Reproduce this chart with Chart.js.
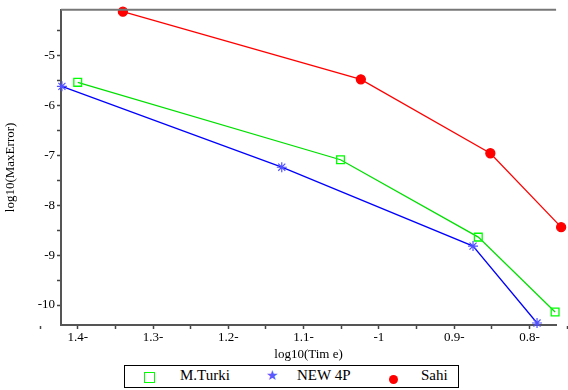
<!DOCTYPE html>
<html>
<head>
<meta charset="utf-8">
<script src="https://cdn.jsdelivr.net/npm/chart.js@4"></script>
<style>
  body { margin:0; background:#fff; width:568px; height:390px; overflow:hidden; position:relative; font-family:"Liberation Serif", "Times New Roman", serif; }
  #wrap { position:absolute; left:0; top:0; width:568px; height:362px; }
  .legend { position:absolute; left:124px; top:365px; width:333px; height:21px; border:1px solid #000; font-size:15px; color:#000; font-family:"Liberation Serif", serif; }
  .legend span { position:absolute; top:1px; }
  .sq { display:inline-block; width:9px; height:9px; border:1.5px solid #00ff00; }
  .dot { display:inline-block; width:9px; height:9px; border-radius:50%; background:#ff0000; }
</style>
</head>
<body>
<div id="wrap"><canvas id="c"></canvas></div>
<div class="legend">
  <span style="left:19px; top:4px;"><i class="sq"></i></span>
  <span style="left:55px;">M.Turki</span>
  <span style="left:141px; top:1px; color:#5a5aff; font-size:14px; font-family:'DejaVu Sans';">★</span>
  <span style="left:172px;">NEW 4P</span>
  <span style="left:264px; top:5px;"><i class="dot"></i></span>
  <span style="left:296px;">Sahi</span>
</div>
<script>
// 데이터
const turkiX = [1.400, 1.051, 0.868, 0.766];
const turkiY = [-5.54, -7.09, -8.64, -10.14];
const newX   = [1.421, 1.129, 0.875, 0.790];
const newY   = [-5.62, -7.24, -8.82, -10.36];
const sahiX  = [1.340, 1.024, 0.852, 0.758];
const sahiY  = [-4.125, -5.48, -6.96, -8.44];

const xTickVals   = [1.4, 1.3, 1.2, 1.1, 1.0, 0.9, 0.8];
const xTickLabels = ['1.4-', '1.3-', '1.2-', '1.1-', '-1', '0.9-', '0.8-'];
const yTickVals   = [-5, -6, -7, -8, -9, -10];
const yTickLabels = ['-5', '-6', '-7', '-8', '-9', '-10'];

const pts = (xs, ys) => xs.map((x, i) => ({ x, y: ys[i] }));

// 주 눈금 + 보조 눈금(중간값)
function withMinor(vals, step) {
  const out = [];
  vals.forEach(v => { out.push(v); out.push(+(v + step / 2).toFixed(3)); out.push(+(v - step / 2).toFixed(3)); });
  return [...new Set(out)];
}
function labelFor(vals, labels, v) {
  const i = vals.findIndex(t => Math.abs(t - v) < 1e-6);
  return i >= 0 ? labels[i] : '';
}

// 위쪽 테두리
const topBorder = {
  id: 'topBorder',
  afterDraw(chart) {
    const { ctx, chartArea } = chart;
    ctx.save();
    ctx.strokeStyle = '#777';
    ctx.lineWidth = 2;
    ctx.beginPath();
    ctx.moveTo(chartArea.left, chartArea.top);
    ctx.lineTo(chartArea.right, chartArea.top);
    ctx.stroke();
    ctx.restore();
  }
};

const font = { family: '"Liberation Serif", serif', size: 13 };

new Chart(document.getElementById('c'), {
  type: 'scatter',
  data: {
    datasets: [
      {
        label: 'M.Turki',
        data: pts(turkiX, turkiY),
        showLine: true,
        borderColor: '#00e000',
        backgroundColor: 'rgba(0,0,0,0)',
        borderWidth: 1.3,
        pointStyle: 'rect',
        pointRadius: 5.5,
        pointBorderColor: '#00ff00',
        pointBorderWidth: 1.3,
        clip: false,
      },
      {
        label: 'NEW 4P',
        data: pts(newX, newY),
        showLine: true,
        borderColor: '#0000ff',
        backgroundColor: '#4444ff',
        borderWidth: 1.3,
        pointStyle: 'star',
        pointRadius: 5,
        pointBorderColor: '#5050ff',
        pointBorderWidth: 1.2,
        clip: false,
      },
      {
        label: 'Sahi',
        data: pts(sahiX, sahiY),
        showLine: true,
        borderColor: '#ff0000',
        backgroundColor: '#ff0000',
        borderWidth: 1.3,
        pointStyle: 'circle',
        pointRadius: 4.5,
        pointBorderColor: '#ff0000',
        clip: false,
      },
    ],
  },
  options: {
    responsive: true,
    maintainAspectRatio: false,
    animation: false,
    layout: { padding: { left: 3, right: 0, top: 5, bottom: 0 } },
    plugins: { legend: { display: false }, tooltip: { enabled: false } },
    scales: {
      x: {
        type: 'linear',
        reverse: true,
        min: 0.7647,
        max: 1.4222,
        afterBuildTicks: (s) => { s.ticks = withMinor(xTickVals, 0.1).map(v => ({ value: v })); },
        afterFit: (s) => { s.height = 37; },
        ticks: {
          autoSkip: false, maxRotation: 0, color: '#000', font, padding: 1,
          callback: (v) => labelFor(xTickVals, xTickLabels, v),
        },
        grid: { drawOnChartArea: false, tickLength: 4, color: '#444', tickWidth: 1.5 },
        border: { color: '#555', width: 2 },
        title: { display: true, text: 'log10(Tim e)', color: '#000', font, padding: { top: 0, bottom: 0 } },
      },
      y: {
        type: 'linear',
        min: -10.4,
        max: -4.087,
        afterBuildTicks: (s) => { s.ticks = withMinor(yTickVals, 1).filter(v => v >= -10.4 && v <= -4.087).map(v => ({ value: v })); },
        afterFit: (s) => { s.width = 58; },
        ticks: {
          autoSkip: false, color: '#000', font, padding: 2,
          callback: (v) => labelFor(yTickVals, yTickLabels, v),
        },
        grid: { drawOnChartArea: false, tickLength: 4, color: '#444', tickWidth: 1.5 },
        border: { color: '#555', width: 2 },
        title: { display: true, text: 'log10(MaxError)', color: '#000', font, padding: { top: 0, bottom: 4 } },
      },
    },
  },
  plugins: [topBorder],
});
</script>
</body>
</html>
